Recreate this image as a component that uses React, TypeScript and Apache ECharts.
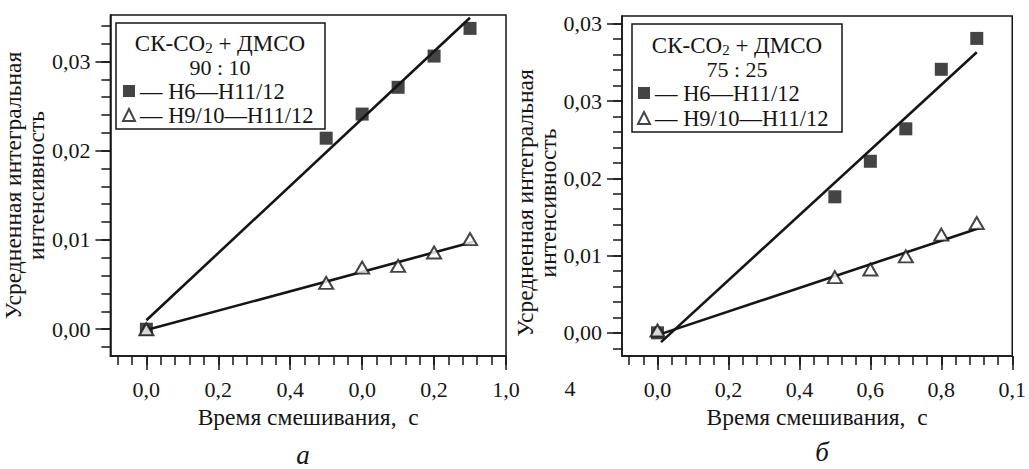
import React, { useEffect, useRef } from "react";
import * as echarts from "echarts";

// ---- data ----
const mixTime = [0, 0.5, 0.6, 0.7, 0.8, 0.9];
const leftH6 = [0, 0.0214, 0.0241, 0.0271, 0.0306, 0.0337];
const leftH9 = [0, 0.0052, 0.0069, 0.0071, 0.0086, 0.0101];
const rightH6 = [0, 0.0176, 0.0222, 0.0264, 0.0341, 0.0381];
const rightH9 = [0.0003, 0.0072, 0.0082, 0.0099, 0.0127, 0.0142];

const leftFitH6 = [[0, 0.001], [0.9, 0.0349]];
const leftFitH9 = [[0, -0.0001], [0.91, 0.0098]];
const rightFitH6 = [[0.01, -0.0012], [0.9, 0.0363]];
const rightFitH9 = [[0, -0.0003], [0.91, 0.0136]];

const seriesNames = ["H6—H11/12", "H9/10—H11/12"];

// ---- ticks & tick labels ----
const xMajorTicks = [0, 0.2, 0.4, 0.6, 0.8, 1.0];
const leftXTickLabels = ["0,0", "0,2", "0,4", "0,0", "0,2", "1,0"];
const rightXTickLabels = ["0,0", "0,2", "0,4", "0,6", "0,8", "0,1"];
const xMinorTicks = [
  -0.08, -0.04, 0, 0.04, 0.08, 0.12, 0.16, 0.2, 0.24, 0.28, 0.32, 0.36, 0.4, 0.44,
  0.48, 0.52, 0.56, 0.6, 0.64, 0.68, 0.72, 0.76, 0.8, 0.84, 0.88, 0.92, 0.96, 1.0,
];
const leftYMajorTicks = [0, 0.01, 0.02, 0.03];
const leftYTickLabels = ["0,00", "0,01", "0,02", "0,03"];
const leftYMinorTicks = [
  -0.002, 0, 0.002, 0.004, 0.006, 0.008, 0.01, 0.012, 0.014, 0.016, 0.018, 0.02,
  0.022, 0.024, 0.026, 0.028, 0.03, 0.032, 0.034,
];
const rightYMajorTicks = [0, 0.01, 0.02, 0.03, 0.04];
const rightYTickLabels = ["0,00", "0,01", "0,02", "0,03", "0,03"];
const rightYMinorTicks = [
  -0.002, 0, 0.002, 0.004, 0.006, 0.008, 0.01, 0.012, 0.014, 0.016, 0.018, 0.02,
  0.022, 0.024, 0.026, 0.028, 0.03, 0.032, 0.034, 0.036, 0.038, 0.04,
];

const xTitle = "Время смешивания,  с";
const yTitle = "Усредненная интегральная\nинтенсивность";

const FONT = "Liberation Serif";
const INK = "#151515";
const TICK_FS = 22;
const TITLE_FS = 23.5;

function labelFor(ticks: number[], labels: string[]) {
  return (v: number) => {
    const i = ticks.findIndex((t) => Math.abs(t - v) < 1e-9);
    return i >= 0 ? labels[i] : "";
  };
}

const lineStyle = { color: INK, width: 1.5 };

function mainX(grid: number, labels: string[]) {
  return {
    type: "value",
    gridIndex: grid,
    min: -0.1,
    max: 1.0,
    position: "bottom",
    name: xTitle,
    nameLocation: "middle",
    nameGap: 47,
    nameTextStyle: { fontFamily: FONT, fontSize: TITLE_FS, color: INK },
    axisLine: { show: true, onZero: false, lineStyle },
    axisTick: { show: true, inside: false, length: 14, customValues: xMajorTicks, lineStyle },
    axisLabel: {
      show: true,
      customValues: xMajorTicks,
      formatter: labelFor(xMajorTicks, labels),
      margin: 22,
      fontFamily: FONT,
      fontSize: TICK_FS,
      color: INK,
    },
    splitLine: { show: false },
  };
}

function minorX(grid: number) {
  return {
    type: "value",
    gridIndex: grid,
    min: -0.1,
    max: 1.0,
    position: "bottom",
    axisLine: { show: false, onZero: false },
    axisTick: { show: true, inside: false, length: 9, customValues: xMinorTicks, lineStyle },
    axisLabel: { show: false },
    splitLine: { show: false },
  };
}

function mainY(grid: number, min: number, max: number, ticks: number[], labels: string[], pad: number[]) {
  return {
    type: "value",
    gridIndex: grid,
    min,
    max,
    position: "left",
    name: yTitle,
    nameLocation: "middle",
    nameRotate: 90,
    nameGap: 55,
    nameTextStyle: { fontFamily: FONT, fontSize: TITLE_FS, color: INK, lineHeight: 23, padding: pad },
    axisLine: { show: true, onZero: false, lineStyle },
    axisTick: { show: true, inside: false, length: 15, customValues: ticks, lineStyle },
    axisLabel: {
      show: true,
      customValues: ticks,
      formatter: labelFor(ticks, labels),
      margin: 20,
      fontFamily: FONT,
      fontSize: TICK_FS,
      color: INK,
    },
    splitLine: { show: false },
  };
}

function minorY(grid: number, min: number, max: number, ticks: number[]) {
  return {
    type: "value",
    gridIndex: grid,
    min,
    max,
    position: "left",
    axisLine: { show: false, onZero: false },
    axisTick: { show: true, inside: false, length: 9, customValues: ticks, lineStyle },
    axisLabel: { show: false },
    splitLine: { show: false },
  };
}

function fitSeries(name: string, data: number[][], xi: number, yi: number) {
  return {
    name,
    type: "line",
    xAxisIndex: xi,
    yAxisIndex: yi,
    data,
    showSymbol: false,
    symbol: "none",
    lineStyle: { color: INK, width: 2.6 },
    z: 2,
    silent: true,
  };
}

function squares(values: number[], xi: number, yi: number) {
  return {
    name: seriesNames[0],
    type: "scatter",
    xAxisIndex: xi,
    yAxisIndex: yi,
    data: mixTime.map((t, i) => [t, values[i]]),
    symbol: "rect",
    symbolSize: 13,
    itemStyle: { color: INK },
    z: 3,
  };
}

function triangles(values: number[], xi: number, yi: number) {
  return {
    name: seriesNames[1],
    type: "scatter",
    xAxisIndex: xi,
    yAxisIndex: yi,
    data: mixTime.map((t, i) => [t, values[i]]),
    symbol: "triangle",
    symbolSize: [14, 12],
    itemStyle: { color: "#ffffff", borderColor: INK, borderWidth: 2 },
    z: 4,
  };
}

function legend(left: number, top: number, pitch: number) {
  return {
    data: seriesNames,
    orient: "vertical",
    left,
    top,
    padding: 0,
    itemGap: 0,
    itemWidth: 12,
    itemHeight: 12,
    selectedMode: false,
    z: 20,
    formatter: (n: string) => "— " + n,
    textStyle: { fontFamily: FONT, fontSize: 22.5, color: INK, lineHeight: pitch },
  };
}

function headerText(x: number, y: number, ratio: string) {
  return [
    {
      type: "text",
      x,
      y,
      z: 20,
      style: {
        text: "СК-СО{sub|2} + ДМСО",
        align: "center",
        verticalAlign: "middle",
        fontFamily: FONT,
        fontSize: 23,
        lineHeight: 24,
        fill: INK,
        rich: {
          sub: { fontFamily: FONT, fontSize: 15, lineHeight: 15, verticalAlign: "bottom", fill: INK },
        },
      },
    },
    {
      type: "text",
      x,
      y: y + 24,
      z: 20,
      style: {
        text: ratio,
        align: "center",
        verticalAlign: "middle",
        fontFamily: FONT,
        fontSize: 22,
        lineHeight: 18,
        fill: INK,
      },
    },
  ];
}

export default function App() {
  const ref = useRef<HTMLDivElement>(null);
  useEffect(() => {
    if (!ref.current) return;
    const chart = echarts.init(ref.current, null, { renderer: "svg" });
    const option: any = {
      animation: false,
      backgroundColor: "#ffffff",
      textStyle: { fontFamily: FONT },
      grid: [
        { left: 110, top: 15, width: 396, height: 341, show: true, borderColor: INK, borderWidth: 1.5, containLabel: false },
        { left: 622, top: 16, width: 392, height: 340, show: true, borderColor: INK, borderWidth: 1.5, containLabel: false },
      ],
      xAxis: [mainX(0, leftXTickLabels), minorX(0), mainX(1, rightXTickLabels), minorX(1)],
      yAxis: [
        mainY(0, -0.003, 0.0352, leftYMajorTicks, leftYTickLabels, [0, 0, 0, 0]),
        minorY(0, -0.003, 0.0352, leftYMinorTicks),
        mainY(1, -0.003, 0.041, rightYMajorTicks, rightYTickLabels, [0, 34, 0, 0]),
        minorY(1, -0.003, 0.041, rightYMinorTicks),
      ],
      legend: [legend(122, 79, 24), legend(637, 80.5, 25)],
      series: [
        fitSeries("fit-a-1", leftFitH6, 0, 0),
        fitSeries("fit-a-2", leftFitH9, 0, 0),
        squares(leftH6, 0, 0),
        triangles(leftH9, 0, 0),
        fitSeries("fit-b-1", rightFitH6, 2, 2),
        fitSeries("fit-b-2", rightFitH9, 2, 2),
        squares(rightH6, 2, 2),
        triangles(rightH9, 2, 2),
      ],
      graphic: [
        {
          type: "rect",
          shape: { x: 116, y: 23, width: 209, height: 106 },
          style: { fill: "#ffffff", stroke: INK, lineWidth: 1.5 },
          z: 1,
        },
        {
          type: "rect",
          shape: { x: 632, y: 24, width: 210, height: 108 },
          style: { fill: "#ffffff", stroke: INK, lineWidth: 1.5 },
          z: 1,
        },
        ...headerText(220, 43, "90 : 10"),
        ...headerText(737, 45, "75 : 25"),
        {
          type: "text",
          x: 303,
          y: 455,
          style: { text: "а", align: "center", verticalAlign: "middle", fontFamily: FONT, fontSize: 27, lineHeight: 20, fontStyle: "italic", fill: INK },
        },
        {
          type: "text",
          x: 822,
          y: 452,
          style: { text: "б", align: "center", verticalAlign: "middle", fontFamily: FONT, fontSize: 27, lineHeight: 22, fontStyle: "italic", fill: INK },
        },
        {
          type: "text",
          x: 570,
          y: 388,
          style: { text: "4", align: "center", verticalAlign: "middle", fontFamily: FONT, fontSize: TICK_FS, fill: INK },
        },
      ],
    };
    chart.setOption(option);
    return () => chart.dispose();
  }, []);
  return (
    <div
      ref={ref}
      style={{ position: "fixed", left: 0, top: 0, width: 1029, height: 469, background: "#fff" }}
    />
  );
}
